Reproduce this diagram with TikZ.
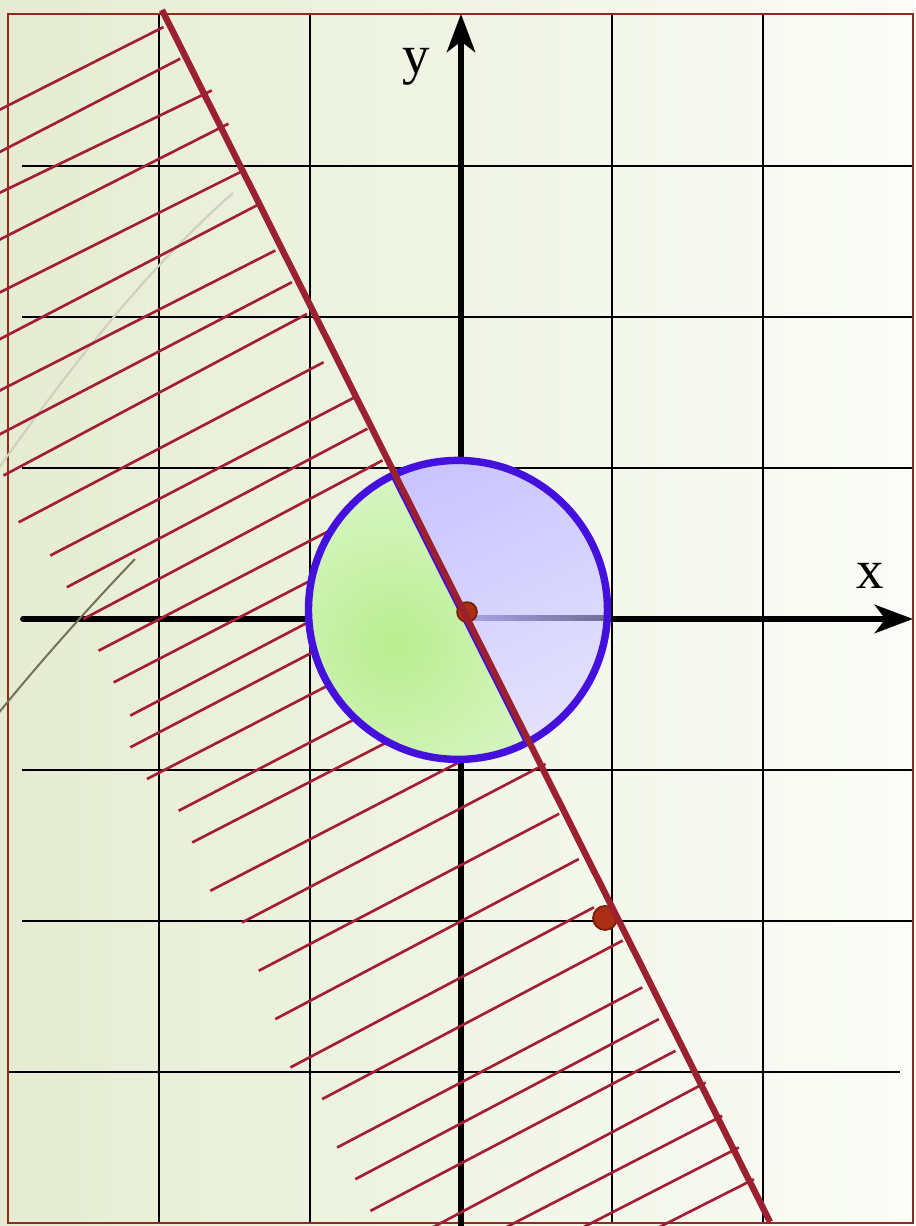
\documentclass[tikz,border=0pt]{standalone}
\usepackage{fontspec}
\setmainfont{Liberation Serif}
\usepackage{tikz}
\usetikzlibrary{arrows.meta}
\definecolor{BgLeft}{RGB}{229,236,210}
\definecolor{BgRight}{RGB}{251,252,248}
\definecolor{HatchRed}{RGB}{163,30,52}
\definecolor{LineRed}{RGB}{155,32,48}
\definecolor{FrameBrown}{RGB}{140,45,30}
\definecolor{RingBlue}{RGB}{68,16,222}
\definecolor{HalfBlueTop}{RGB}{200,195,255}
\definecolor{HalfBlueMid}{RGB}{176,166,255}
\definecolor{HalfBlueLow}{RGB}{228,225,252}
\definecolor{HalfGreenIn}{RGB}{186,238,144}
\definecolor{HalfGreenOut}{RGB}{220,246,204}
\definecolor{AxisFaintL}{RGB}{170,165,230}
\definecolor{AxisFaintR}{RGB}{112,108,148}
\definecolor{DotRed}{RGB}{172,46,20}
\definecolor{DotEdge}{RGB}{118,30,14}
\definecolor{FaintGrey}{RGB}{208,208,192}
\definecolor{OliveGrey}{RGB}{115,110,85}

\begin{document}
\begin{tikzpicture}[
  x=1.5cm, y=1.5cm,
  gridline/.style={draw=black, line width=0.6pt},
  axis/.style={-{Stealth[length=10.8pt,width=8pt,inset=3pt]}, line width=1.7pt, line cap=round},
  hatch/.style={draw=HatchRed, line width=0.75pt},
  ring/.style={draw=RingBlue, line width=2.1pt},
  bound/.style={draw=LineRed, line width=1.8pt},
  pointdot/.style={circle, fill=DotRed, draw=DotEdge, line width=0.5pt, inner sep=0pt},
  axislabel/.style={font=\fontsize{15.5}{18}\selectfont, inner sep=0pt}
]
\useasboundingbox (-3.053,-4.02) rectangle (3.007,4.099);
\clip (-3.053,-4.02) rectangle (3.007,4.099);
\shade[left color=BgLeft, right color=BgRight] (-3.053,-4.02) rectangle (3.007,4.099);

\foreach \x in {-2,-1,1,2}
  \draw[gridline] (\x,-4) -- (\x,4);
\foreach \y in {-2,-1,1,2,3}
  \draw[gridline] (-2.907,\y) -- (3,\y);
\draw[gridline] (-3,-3) -- (2.907,-3);
\draw[draw=FrameBrown, line width=0.45pt] (-3,-4) rectangle (2.993,4.007);

\draw[axis] (-2.9,0) -- (2.993,0);
\draw[axis] (0,-4.05) -- (0,4.007);
\node[axislabel] (xlab) at (2.712,0.288) {x};
\node[axislabel] (ylab) at (-0.295,3.659) {y};

\draw[draw=FaintGrey, line width=0.6pt] (-3.06,1.0) .. controls (-2.6,1.65) and (-2.1,2.3) .. (-1.51,2.821);
\draw[draw=OliveGrey, line width=0.55pt] (-3.06,-0.62) .. controls (-2.8,-0.3) and (-2.5,0.04) .. (-2.159,0.397);

\foreach \ua/\va/\ub/\vb in {
  -3.06/3.37/-1.97/3.92, -3.06/3.09/-1.86/3.71, -3.06/2.82/-1.65/3.50,
  -3.06/2.51/-1.54/3.28, -3.06/2.16/-1.46/2.96, -3.06/1.85/-1.35/2.74,
  -3.06/1.51/-1.23/2.44, -3.06/1.22/-1.12/2.23, -3.03/0.95/-1.02/2.02,
  -2.93/0.64/-0.91/1.70, -2.72/0.42/-0.70/1.47, -2.61/0.21/-0.62/1.26,
  -2.50/0.00/-0.52/1.05, -2.40/-0.21/-0.38/0.84, -2.30/-0.42/-0.27/0.63,
  -2.19/-0.64/-0.17/0.42, -2.19/-0.85/-0.08/0.25, -2.08/-1.06/0.03/0.03,
  -1.87/-1.27/0.15/-0.22, -1.78/-1.48/0.26/-0.43, -1.66/-1.80/0.41/-0.73,
  -1.45/-2.01/0.56/-0.96, -1.34/-2.33/0.65/-1.29, -1.23/-2.65/0.78/-1.59,
  -1.13/-2.97/0.88/-1.91, -0.92/-3.18/1.07/-2.13, -0.82/-3.50/1.20/-2.44,
  -0.70/-3.71/1.31/-2.65, -0.60/-3.92/1.42/-2.86, -0.34/-4.11/1.62/-3.07,
  0.14/-4.11/1.73/-3.29, 0.65/-4.11/1.84/-3.50, 1.15/-4.11/1.94/-3.71}
  \draw[hatch] (\ua,\va) -- (\ub,\vb);

\coordinate (C) at (-0.02,0.06);
\coordinate (lineTop) at (-1.980,4.033);
\coordinate (lineEnd) at (2.046,-3.993);
\begin{scope}
  \clip (C) circle (0.99);
  \shade[top color=HalfBlueTop, middle color=HalfBlueMid, bottom color=HalfBlueLow, shading angle=25]
    (-1.05,-0.95) rectangle (1.01,1.07);
  \shade[left color=AxisFaintL, right color=AxisFaintR] (0.03,-0.01) rectangle (0.975,0.024);
  \clip (lineTop) -- (lineEnd) -- (-3.1,-4.1) -- (-3.1,4.1) -- cycle;
  \shade[inner color=HalfGreenIn, outer color=HalfGreenOut] (-0.44,-0.17) circle (1.3);
\end{scope}
\draw[draw=RingBlue, line width=1.1pt] (-0.46,0.958) -- (0.427,-0.811);
\draw[ring] (C) circle (0.99);

\node[pointdot, minimum size=5.6pt] (dotO) at (0.04,0.046) {};
\node[pointdot, minimum size=6.8pt] (dotP) at (0.954,-1.98) {};
\draw[bound] (lineTop) -- (lineEnd);
\end{tikzpicture}
\end{document}
